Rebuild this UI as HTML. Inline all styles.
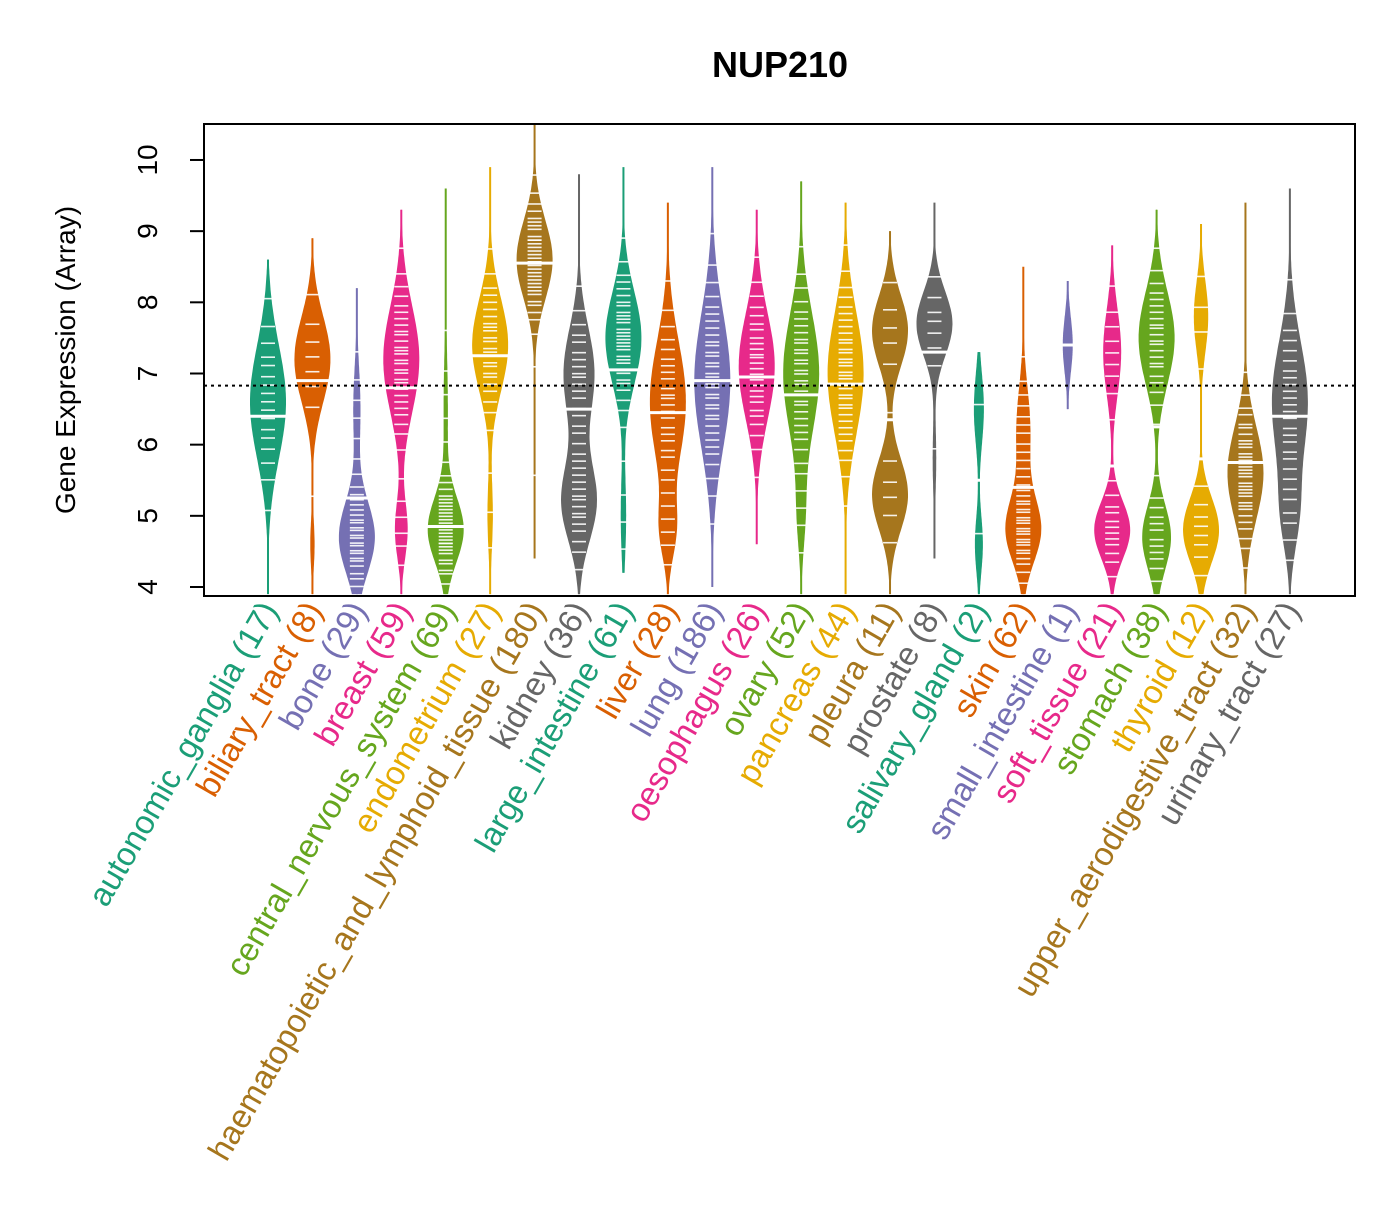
<!DOCTYPE html>
<html><head><meta charset="utf-8"><style>
body{margin:0;background:#fff}
svg text{font-family:"Liberation Sans",sans-serif}
</style></head><body>
<svg id="chart" width="1400" height="1200" xmlns="http://www.w3.org/2000/svg">
<defs><clipPath id="pc"><rect x="204" y="124" width="1151" height="472"/></clipPath></defs>
<text x="780" y="77" font-size="36" font-weight="bold" text-anchor="middle">NUP210</text>
<text transform="translate(75,360) rotate(-90)" font-size="28" text-anchor="middle">Gene Expression (Array)</text>
<g id="plot" clip-path="url(#pc)"></g>
<rect x="204" y="124" width="1151" height="472" fill="none" stroke="#000" stroke-width="2"/>
<g id="axes"></g>
</svg>
<script>
const categories=["autonomic_ganglia","biliary_tract","bone","breast","central_nervous_system","endometrium","haematopoietic_and_lymphoid_tissue","kidney","large_intestine","liver","lung","oesophagus","ovary","pancreas","pleura","prostate","salivary_gland","skin","small_intestine","soft_tissue","stomach","thyroid","upper_aerodigestive_tract","urinary_tract"];
const counts=[17,8,29,59,69,27,180,36,61,28,186,26,52,44,11,8,2,62,1,21,38,12,32,27];
const mins=[3.9,3.9,3.9,3.9,3.9,3.9,4.4,3.9,4.2,3.9,4.0,4.6,3.9,3.9,3.9,4.4,3.9,3.9,6.5,3.9,3.9,3.9,3.9,3.9];
const maxs=[8.6,8.9,8.2,9.3,9.6,9.9,10.5,9.8,9.9,9.4,9.9,9.3,9.7,9.4,9.0,9.4,7.3,8.5,8.3,8.8,9.3,9.1,9.4,9.6];
const medians=[6.4,6.9,5.25,6.8,4.85,7.25,8.55,6.5,7.05,6.45,6.9,6.95,6.7,6.85,6.35,7.3,5.5,5.4,7.4,5.7,6.25,5.8,5.75,6.4];
const modes=[
[[6.6,0.8,1]],[[7.2,0.6,1],[4.6,0.35,0.12]],[[4.7,0.5,1],[6.5,0.6,0.2]],[[7.2,0.75,1],[4.8,0.4,0.35]],
[[4.8,0.45,1],[6.5,0.8,0.12]],[[7.4,0.65,1],[5.0,0.5,0.15]],[[8.6,0.55,1],[6.0,1.0,0.03]],[[7.0,0.65,0.7],[5.2,0.55,0.8]],
[[7.5,0.65,1],[5.0,0.6,0.15]],[[6.6,0.85,1],[4.8,0.4,0.4]],[[6.9,0.95,1]],[[7.1,0.75,1]],
[[7.0,0.85,1],[5.0,0.5,0.2]],[[7.0,0.85,1]],[[7.6,0.5,0.8],[5.3,0.5,0.8]],[[7.7,0.45,1],[5.8,0.5,0.1]],
[[6.5,0.5,1],[4.6,0.4,0.8]],[[4.8,0.45,1],[6.2,0.6,0.4]],[[7.4,0.4,1]],[[4.8,0.4,1],[7.3,0.6,0.5]],
[[7.5,0.65,1],[4.7,0.45,0.8]],[[4.8,0.45,1],[7.8,0.5,0.4]],[[5.6,0.65,1]],[[6.6,0.85,1],[5.0,0.5,0.4]]];
const yTicks=[4,5,6,7,8,9,10];
const refLine=6.83;
const colors=["#1B9E77","#D95F02","#7570B3","#E7298A","#66A61E","#E6AB02","#A6761D","#666666"];
const NS="http://www.w3.org/2000/svg";
const y=v=>587-(v-4)*71.17;
const x=i=>268+i*44.43;
function mk(t,a,p){const e=document.createElementNS(NS,t);for(const k in a)e.setAttribute(k,a[k]);p.appendChild(e);return e;}
const plot=document.getElementById('plot'),axes=document.getElementById('axes');
categories.forEach((c,i)=>{
 const col=colors[i%8],cx=x(i);
 const g=mk('g',{},plot);
 
 
 const N=120,lo=mins[i],hi=maxs[i],vals=[],ds=[];
 for(let k=0;k<=N;k++){const v=lo+(hi-lo)*k/N;let d=0;modes[i].forEach(m=>{d+=m[2]*Math.exp(-0.5*((v-m[0])/m[1])**2)});vals.push(v);ds.push(d);}
 const mx=Math.max(...ds),hw=counts[i]<=2?5:18;
 const line=mk('line',{x1:cx,x2:cx,y1:y(lo),y2:y(hi),stroke:col,'stroke-width':2},g);
 
 let pts=[];vals.forEach((v,k)=>pts.push((cx+ds[k]/mx*hw).toFixed(1)+','+y(v).toFixed(1)));
 for(let k=N;k>=0;k--)pts.push((cx-ds[k]/mx*hw).toFixed(1)+','+y(vals[k]).toFixed(1));
 const poly=mk('polygon',{points:pts.join(' '),fill:col},g);
 
 const cdf=[0];for(let k=1;k<=N;k++)cdf.push(cdf[k-1]+ds[k]);const tot=cdf[N];
 const K=Math.min(counts[i],34);
 for(let j=0;j<K;j++){const q=(j+0.5)/K*tot;let k=0;while(cdf[k]<q)k++;const yy=y(vals[k]);
  const l=mk('line',{x1:cx-7,x2:cx+7,y1:yy,y2:yy,stroke:'#fff','stroke-width':1.6,opacity:0.9},g);
  }
 const ym=y(medians[i]);
 const md=mk('line',{x1:cx-hw-2,x2:cx+hw+2,y1:ym,y2:ym,stroke:'#fff','stroke-width':3},g);
 
 const t=mk('text',{transform:`translate(${cx+11},610) rotate(-60)`,'font-size':33,'text-anchor':'end',fill:col},axes);
 t.textContent=c+' ('+counts[i]+')';
 
});
const rl=mk('line',{x1:204,x2:1355,y1:y(refLine),y2:y(refLine),stroke:'#000','stroke-width':2,'stroke-dasharray':'3,4'},plot);

mk('line',{x1:204,x2:204,y1:y(4),y2:y(10),stroke:'#000','stroke-width':2},axes);
yTicks.forEach(v=>{
 const tk=mk('line',{x1:190,x2:204,y1:y(v),y2:y(v),stroke:'#000','stroke-width':2},axes);
 
 const t=mk('text',{transform:`translate(157,${y(v)}) rotate(-90)`,'font-size':28,'text-anchor':'middle'},axes);
 t.textContent=v;
 
});
</script>
</body></html>
